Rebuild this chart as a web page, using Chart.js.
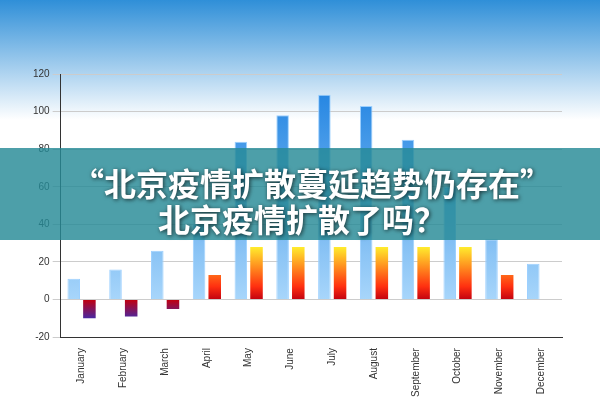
<!DOCTYPE html>
<html><head><meta charset="utf-8">
<script src="https://cdn.jsdelivr.net/npm/chart.js@4/dist/chart.umd.min.js"></script>
<style>html,body{margin:0;padding:0;background:#fff}</style>
</head><body><canvas id="c" width="600" height="400" style="width:600px;height:400px;display:block"></canvas>
<script>
const categories=["January","February","March","April","May","June","July","August","September","October","November","December"];
const seriesBlue=[11,16,26,40,84,98,109,103,85,60,32,19];
const seriesWarm=[-10,-9,-5,13,28,28,28,28,28,28,13,null];
const yTicks=[-20,0,20,40,60,80,100,120];
const title1="“北京疫情扩散蔓延趋势仍存在”";
const title2="北京疫情扩散了吗？";

const bg={id:'bg',beforeDraw(ch){const c=ch.ctx;const g=c.createLinearGradient(0,0,0,120);g.addColorStop(0,'#2f8fd8');g.addColorStop(1,'#ffffff');c.save();c.fillStyle=g;c.fillRect(0,0,600,120);c.restore();}};
const banner={id:'banner',afterDraw(ch){const c=ch.ctx;c.save();c.fillStyle='rgba(38,138,150,0.82)';c.fillRect(0,148,600,92);
c.font='bold 32px "Noto Sans CJK SC"';c.textAlign='center';c.textBaseline='middle';c.fillStyle='#fff';c.shadowColor='rgba(0,0,0,0.7)';c.shadowBlur=4;c.shadowOffsetX=1;c.shadowOffsetY=1;
c.fillText(title1,312,184);c.fillText(title2,302,220);c.restore();}};
function warm(ctx){const ch=ctx.chart;const a=ch.chartArea;if(!a)return '#e33';const y=ch.scales.y;const g=ch.ctx.createLinearGradient(0,y.getPixelForValue(30),0,y.getPixelForValue(-12));
g.addColorStop(0,'#ffff30');g.addColorStop(0.55,'#ff3010');g.addColorStop(0.72,'#c00010');g.addColorStop(1,'#3030c0');return g;}
function blue(ctx){const ch=ctx.chart;const a=ch.chartArea;if(!a)return '#39f';const g=ch.ctx.createLinearGradient(0,a.top,0,a.bottom);g.addColorStop(0,'#1a7fe0');g.addColorStop(1,'#bfe4ff');return g;}
new Chart(document.getElementById('c'),{type:'bar',
data:{labels:categories,datasets:[
{data:seriesBlue,backgroundColor:blue,borderColor:'#9cd0ff',borderWidth:1,barPercentage:0.8,categoryPercentage:0.75},
{data:seriesWarm,backgroundColor:warm,borderWidth:0,barPercentage:0.8,categoryPercentage:0.75}]},
options:{responsive:false,animation:false,devicePixelRatio:1,layout:{padding:{left:30,right:38,top:74,bottom:0}},
plugins:{legend:{display:false},tooltip:{enabled:false}},
scales:{x:{grid:{display:false},border:{color:'#333'},ticks:{color:'#333',font:{size:10,family:'Liberation Sans'},maxRotation:90,minRotation:90,autoSkip:false}},
y:{min:-20,max:120,afterBuildTicks(s){s.ticks=yTicks.map(v=>({value:v}));},grid:{color:'#ccc',drawTicks:true},border:{color:'#333'},ticks:{color:'#333',font:{size:10,family:'Liberation Sans'}}}}},
plugins:[bg,banner]});
</script></body></html>
